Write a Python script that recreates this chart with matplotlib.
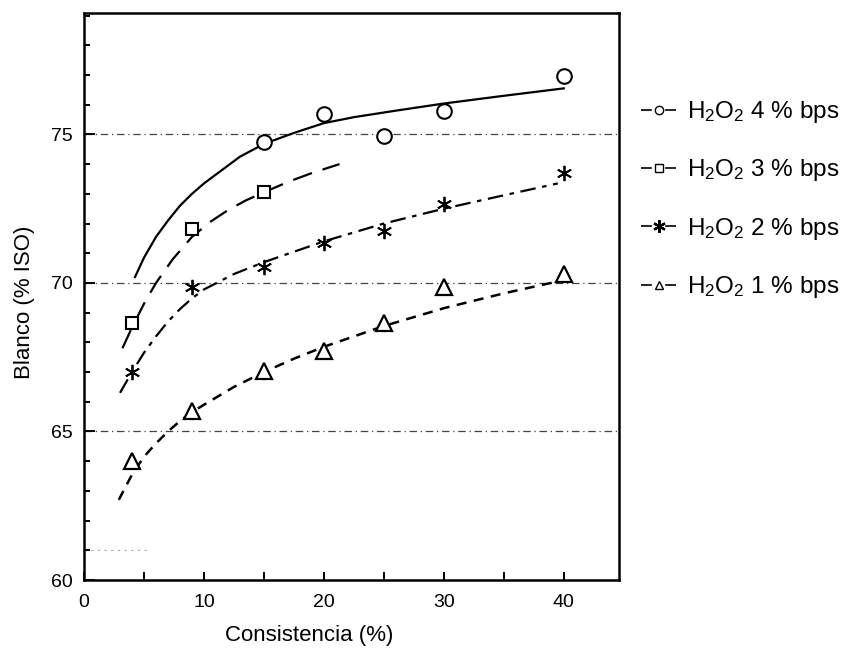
import matplotlib
matplotlib.use("Agg")
import matplotlib.pyplot as plt
from matplotlib.lines import Line2D
from matplotlib.ticker import MultipleLocator, FixedLocator

plt.rcParams['font.family'] = ['Liberation Sans', 'DejaVu Sans']
plt.rcParams['mathtext.default'] = 'regular'

# measured points (consistency %, brightness % ISO)
x_all = [4, 9, 15, 20, 25, 30, 40]
h4_x = [15, 20, 25, 30, 40]
h4_y = [74.75, 75.7, 74.95, 75.8, 76.95]
h3_x = [4, 9, 15]
h3_y = [68.65, 71.8, 73.05]
h2_y = [67.0, 69.85, 70.55, 71.35, 71.75, 72.65, 73.7]
h1_y = [64.0, 65.7, 67.05, 67.7, 68.65, 69.85, 70.3]

# fitted curves
fit4_x = [4.25, 5, 6, 7, 8, 9, 10, 11.5, 13, 15, 17.5, 20, 22.5, 26, 30, 35, 40]
fit4_y = [70.2, 70.85, 71.55, 72.1, 72.6, 73.0, 73.35, 73.8, 74.25, 74.68, 75.05,
          75.38, 75.58, 75.8, 76.04, 76.3, 76.55]
fit3_x = [3.2, 4, 5, 6, 7.4, 9, 10.5, 12, 13.5, 15, 17, 19, 21.3]
fit3_y = [67.8, 68.5, 69.3, 70.0, 70.8, 71.55, 72.05, 72.45, 72.78, 73.05, 73.4, 73.7, 74.0]
fit2_x = [3, 4, 5, 6, 7, 8, 9, 10, 12.5, 15, 17.5, 20, 25, 30, 35, 39.5]
fit2_y = [66.3, 67.0, 67.65, 68.2, 68.7, 69.12, 69.48, 69.78, 70.3, 70.7, 71.05,
          71.4, 72.0, 72.5, 72.95, 73.35]
fit1_x = [2.9, 4, 5, 6, 7, 8, 9, 10, 12.5, 15, 17.5, 20, 25, 30, 35, 39.5]
fit1_y = [62.7, 63.55, 64.15, 64.6, 65.0, 65.35, 65.65, 65.9, 66.5, 67.0, 67.45,
          67.85, 68.55, 69.15, 69.65, 70.05]

labels = ['H$_2$O$_2$ 4 % bps', 'H$_2$O$_2$ 3 % bps',
          'H$_2$O$_2$ 2 % bps', 'H$_2$O$_2$ 1 % bps']
grid_levels = [75, 70, 65]

fig = plt.figure(figsize=(8.6, 6.64), dpi=100)
ax = fig.add_axes([0.0977, 0.1265, 0.622, 0.8545])

# the dash-dot reference lines of the scan
for g in grid_levels:
    ax.axhline(g, color='#444444', lw=0.9, dashes=(6, 3, 1, 3), zorder=1)
ax.plot([0, 5.5], [61, 61], color='#aaaaaa', lw=0.8, dashes=(2, 4), zorder=1)

star = (6, 2, 0)
ax.plot(fit4_x, fit4_y, color='black', lw=1.6, ls='-')
ax.plot(fit3_x, fit3_y, color='black', lw=1.6, dashes=(9, 5))
ax.plot(fit2_x, fit2_y, color='black', lw=1.6, dashes=(7, 3, 2, 3))
ax.plot(fit1_x, fit1_y, color='black', lw=1.8, dashes=(4, 3))

ax.plot(h4_x, h4_y, ls='none', marker='o', ms=10.5, mfc='white', mec='black', mew=1.5)
ax.plot(h3_x, h3_y, ls='none', marker='s', ms=9, mfc='white', mec='black', mew=1.5)
ax.plot(x_all, h2_y, ls='none', marker=star, ms=11, mec='black', mew=1.3)
ax.plot(x_all, h1_y, ls='none', marker='^', ms=11, mfc='white', mec='black', mew=1.6)

ax.set_xlim(0, 44.6)
ax.set_ylim(60, 79.1)

ax.xaxis.set_major_locator(FixedLocator([0, 10, 20, 30, 40]))
ax.xaxis.set_minor_locator(FixedLocator([5, 15, 25, 35]))
ax.yaxis.set_major_locator(FixedLocator([60, 65, 70, 75]))
ax.yaxis.set_minor_locator(MultipleLocator(1))
ax.tick_params(axis='both', which='both', direction='in', width=1.4, labelsize=14)
ax.tick_params(axis='x', which='both', length=6, pad=10)
ax.tick_params(axis='y', which='major', length=8, pad=8)
ax.tick_params(axis='y', which='minor', length=4)
ax.tick_params(top=False, right=False)
for s in ax.spines.values():
    s.set_linewidth(1.8)

ax.set_xlabel('Consistencia (%)', fontsize=16)
ax.xaxis.set_label_coords(0.42, -0.08)
ax.set_ylabel('Blanco (% ISO)', fontsize=16)
ax.yaxis.set_label_coords(-0.092, 0.49)

# legend handles drawn as "-o-": short dash, marker, short dash
leg_dash = (6.5, 8)
handles = [
    Line2D([], [], color='black', lw=1.2, dashes=leg_dash, marker='o', ms=6,
           mfc='white', mec='black'),
    Line2D([], [], color='black', lw=1.2, dashes=leg_dash, marker='s', ms=6,
           mfc='white', mec='black'),
    Line2D([], [], color='black', lw=1.2, dashes=leg_dash, marker=star, ms=9,
           mec='black', mew=1.6),
    Line2D([], [], color='black', lw=1.2, dashes=leg_dash, marker='^', ms=6,
           mfc='white', mec='black'),
]
fig.legend(handles, labels, loc='upper left', bbox_to_anchor=(0.731, 0.869),
           frameon=False, fontsize=17.5, handlelength=1.5, handletextpad=0.4,
           labelspacing=1.33, borderpad=0)

fig.savefig('out.png', dpi=100)
